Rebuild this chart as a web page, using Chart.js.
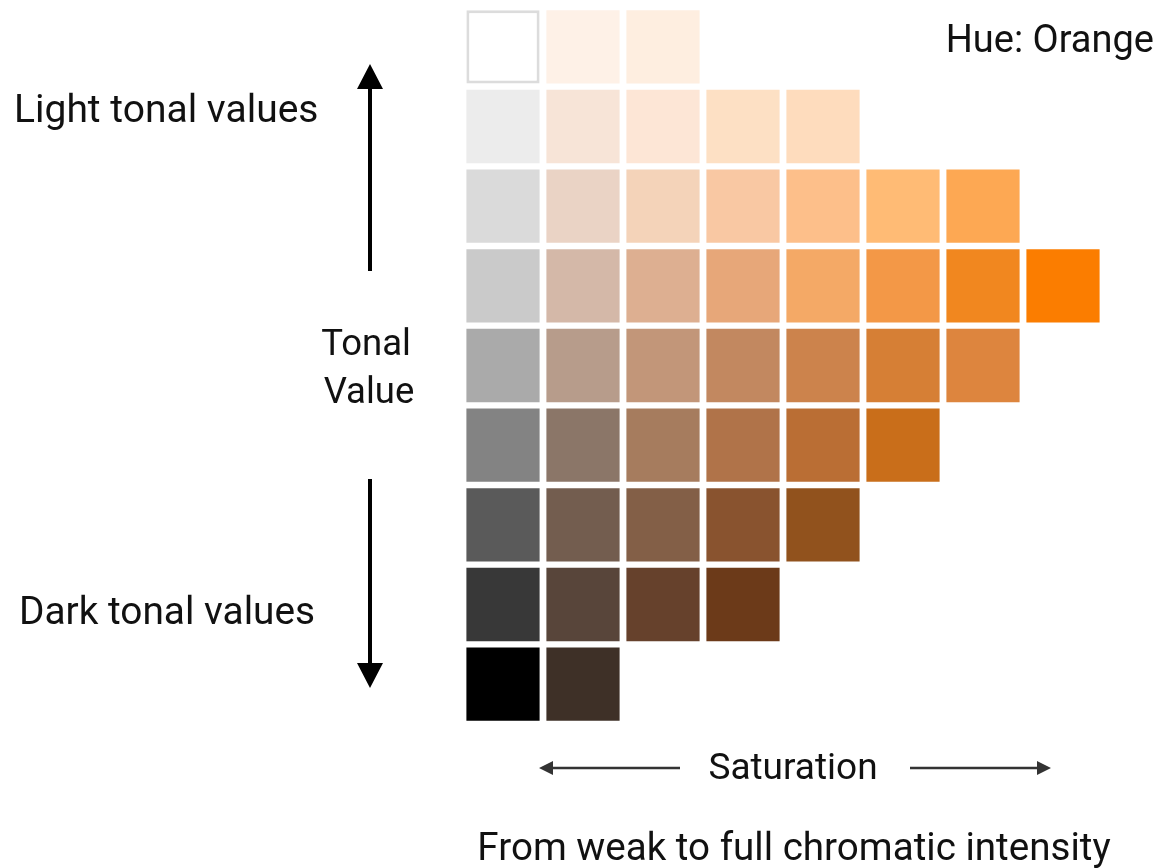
<!DOCTYPE html>
<html>
<head>
<meta charset="utf-8">
<script src="https://cdn.jsdelivr.net/npm/chart.js@4/dist/chart.umd.min.js"></script>
<style>
  html, body { margin: 0; padding: 0; background: #fff; }
  #wrap { width: 1159px; height: 868px; position: relative; }
</style>
</head>
<body>
<div id="wrap"><canvas id="toneChart"></canvas></div>
<script>
// saturation steps (columns) and tonal rows, light -> dark
const saturation = ['1', '2', '3', '4', '5', '6', '7', '8'];
const tone1 = ['#ffffff', '#fef1e7', '#feeee0'];
const tone2 = ['#ececec', '#f7e4d7', '#fde6d6', '#fde0c4', '#fedcbd'];
const tone3 = ['#dadada', '#ead3c5', '#f4d3b9', '#f9c8a3', '#fdbf8a', '#ffbb75', '#fda853'];
const tone4 = ['#cacaca', '#d4b8a8', '#ddaf91', '#e7a779', '#f4a966', '#f39847', '#f1871f', '#fb7d00'];
const tone5 = ['#aaaaaa', '#b79c8b', '#c29679', '#c28860', '#cc834c', '#d67f35', '#dd853e'];
const tone6 = ['#838383', '#8b7668', '#a67c5e', '#b07349', '#ba6e34', '#c96e1a'];
const tone7 = ['#5a5a5a', '#735d4f', '#835f47', '#89532f', '#91521d'];
const tone8 = ['#383838', '#58453a', '#66412c', '#6c3a19'];
const tone9 = ['#000000', '#3e3027'];
const tones = [tone1, tone2, tone3, tone4, tone5, tone6, tone7, tone8, tone9];

const FONT = '"Roboto", "Liberation Sans", sans-serif';

// labels + arrows around the grid
const decor = {
  id: 'decor',
  afterDraw(chart) {
    const ctx = chart.ctx;
    const txt = (s, size, x, y, align) => {
      ctx.font = size + 'px ' + FONT;
      ctx.textAlign = align;
      ctx.fillText(s, x, y);
    };
    ctx.save();
    ctx.fillStyle = '#111';
    ctx.textBaseline = 'middle';
    txt('Hue: Orange', 38, 1154, 42, 'right');
    txt('Light tonal values', 39, 14, 112, 'left');
    txt('Dark tonal values', 38.8, 19, 614, 'left');
    txt('Tonal', 36.5, 366, 346, 'center');
    txt('Value', 36.5, 369, 394, 'center');
    txt('Saturation', 37, 793, 770, 'center');
    txt('From weak to full chromatic intensity', 38.6, 794, 850, 'center');

    // vertical arrows
    ctx.strokeStyle = '#000';
    ctx.fillStyle = '#000';
    ctx.lineWidth = 4;
    ctx.beginPath();
    ctx.moveTo(370, 271); ctx.lineTo(370, 84);
    ctx.moveTo(370, 479); ctx.lineTo(370, 668);
    ctx.stroke();
    ctx.beginPath();
    ctx.moveTo(370, 64); ctx.lineTo(383, 89); ctx.lineTo(357, 89); ctx.closePath();
    ctx.moveTo(370, 688); ctx.lineTo(383, 663); ctx.lineTo(357, 663); ctx.closePath();
    ctx.fill();

    // horizontal arrows
    ctx.strokeStyle = '#333';
    ctx.fillStyle = '#333';
    ctx.lineWidth = 2.5;
    ctx.beginPath();
    ctx.moveTo(680, 768); ctx.lineTo(550, 768);
    ctx.moveTo(910, 768); ctx.lineTo(1040, 768);
    ctx.stroke();
    ctx.beginPath();
    ctx.moveTo(539, 768); ctx.lineTo(553, 761); ctx.lineTo(553, 775); ctx.closePath();
    ctx.moveTo(1051, 768); ctx.lineTo(1037, 761); ctx.lineTo(1037, 775); ctx.closePath();
    ctx.fill();
    ctx.restore();
  }
};

document.addEventListener('DOMContentLoaded', () => {
  const ctx = document.getElementById('toneChart');
  new Chart(ctx, {
    type: 'bar',
    data: {
      labels: saturation,
      datasets: tones.map((colors, r) => ({
        data: colors.map(() => [r - 0.46, r + 0.46]),
        backgroundColor: colors,
        borderColor: colors.map(c => c === '#ffffff' ? '#dcdcdc' : c),
        borderWidth: colors.map(c => c === '#ffffff' ? 3 : 0),
        borderSkipped: false,
        barPercentage: 0.915,
        categoryPercentage: 1
      }))
    },
    options: {
      responsive: true,
      maintainAspectRatio: false,
      animation: false,
      grouped: false,
      layout: { padding: { left: 463, right: 56, top: 7, bottom: 144 } },
      plugins: { legend: { display: false }, tooltip: { enabled: false } },
      scales: {
        x: { display: false },
        y: { display: false, min: -0.5, max: 8.5, reverse: true }
      }
    },
    plugins: [decor]
  });
});
</script>
</body>
</html>
